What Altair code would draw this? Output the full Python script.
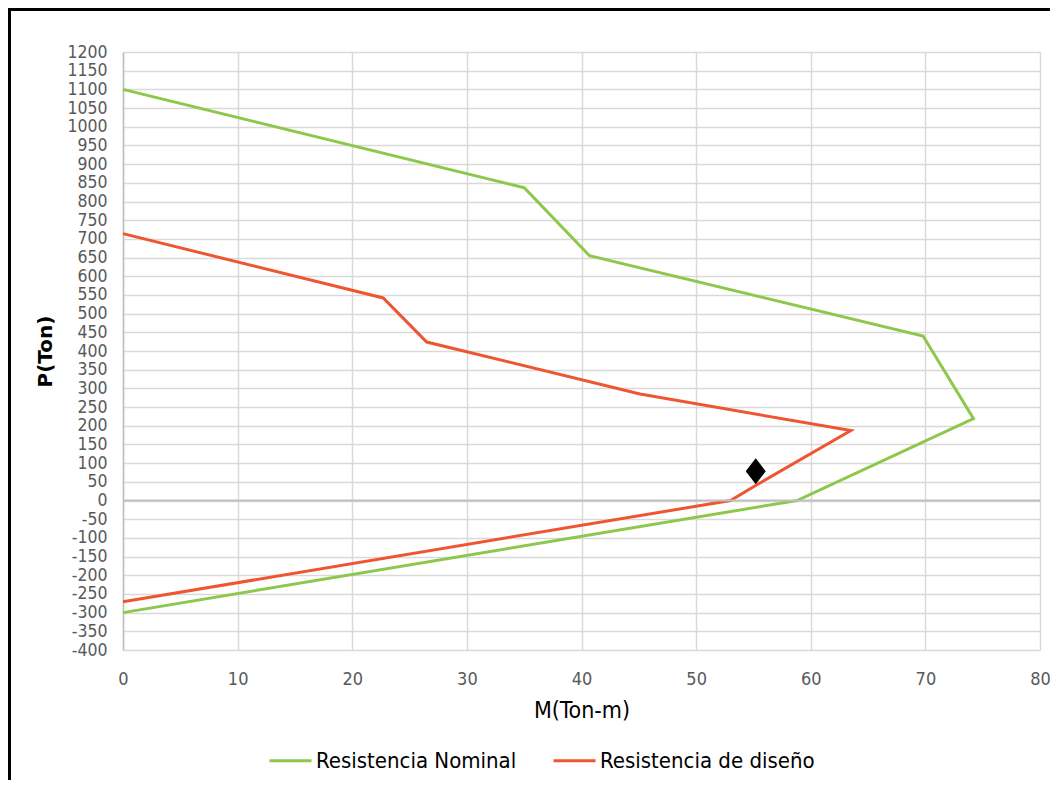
import altair as alt
import pandas as pd

# Interaction diagram data (M in Ton-m, P in Ton)
nominal_m = [0, 35.0, 40.7, 69.8, 74.2, 58.8, 0]
nominal_p = [1100, 837, 655, 440, 219, 0, -300]
design_m = [0, 22.7, 26.5, 45.1, 63.5, 55.3, 53.0, 0]
design_p = [714, 542, 424, 285, 187, 42, 0, -271]
demand_m = [55.2]
demand_p = [78]

x_ticks = list(range(0, 81, 10))
y_ticks = list(range(-400, 1201, 50))

series_names = ["Resistencia Nominal", "Resistencia de diseño"]
series_colors = ["#8DC84C", "#EE5530"]

rows = []
for i, (m, p) in enumerate(zip(nominal_m, nominal_p)):
    rows.append({"M": m, "P": p, "serie": series_names[0], "idx": i})
for i, (m, p) in enumerate(zip(design_m, design_p)):
    rows.append({"M": m, "P": p, "serie": series_names[1], "idx": i})
curves = pd.DataFrame(rows)
demand = pd.DataFrame({"M": demand_m, "P": demand_p})
zero = pd.DataFrame({"P": [0]})

NARROW = "DejaVu Sans Condensed"

x_scale = alt.Scale(domain=[0, 80], nice=False, zero=False)
y_scale = alt.Scale(domain=[-400, 1200], nice=False, zero=False)

x_axis = alt.Axis(
    values=x_ticks, title="M(Ton-m)", grid=True, gridColor="#D9D9D9",
    gridWidth=1.5, domain=False, ticks=False, labelPadding=20, labelFlush=False,
    labelExpr="'' + datum.value",
    labelFont=NARROW, labelFontSize=18, labelColor="#595959",
    titleFont=NARROW, titleFontSize=23, titleFontWeight="normal", titleColor="#000000",
    titlePadding=11,
)
y_axis = alt.Axis(
    values=y_ticks, title="P(Ton)", grid=True, gridColor="#D9D9D9",
    gridWidth=1.5, domain=True, domainColor="#BFBFBF", domainWidth=1.5, ticks=False,
    labelPadding=16, labelOverlap=False, labelFlush=False, labelExpr="'' + datum.value",
    labelFont=NARROW, labelFontSize=17.5,
    labelColor="#595959", titleFont="DejaVu Sans", titleFontSize=20, titleFontWeight="bold",
    titleColor="#000000", titleX=-78, titleY=299, titleAngle=-90, titleAlign="center",
    titleBaseline="middle",
)

lines = alt.Chart(curves).mark_line(strokeWidth=3, clip=False).encode(
    x=alt.X("M:Q", scale=x_scale, axis=x_axis),
    y=alt.Y("P:Q", scale=y_scale, axis=y_axis),
    color=alt.Color(
        "serie:N",
        scale=alt.Scale(domain=series_names, range=series_colors),
        sort=series_names,
        legend=alt.Legend(
            title=None, orient="none", direction="horizontal", legendX=145, legendY=686,
            symbolType="stroke", symbolStrokeWidth=3, symbolSize=1764, labelFont=NARROW,
            labelFontSize=22, labelColor="#000000", labelOffset=3, columnPadding=30,
            padding=0, labelLimit=400,
        ),
    ),
    order="idx:Q",
)

zero_line = alt.Chart(zero).mark_rule(color="#BFBFBF", strokeWidth=1.8).encode(
    y=alt.Y("P:Q", scale=y_scale, axis=y_axis)
)

diamond = alt.Chart(demand).mark_point(
    shape="M0,-1.3L1,0L0,1.3L-1,0Z", filled=True, color="#000000", opacity=1, size=400
).encode(x=alt.X("M:Q", scale=x_scale, axis=x_axis), y=alt.Y("P:Q", scale=y_scale, axis=y_axis))

frame_left = alt.Chart(zero).mark_rule(color="#000000", strokeWidth=3).encode(
    x=alt.value(-113.5), y=alt.value(-44), y2=alt.value(740)
)
frame_top = alt.Chart(zero).mark_rule(color="#000000", strokeWidth=3).encode(
    x=alt.value(-115), x2=alt.value(940), y=alt.value(-42.5)
)

chart = alt.layer(lines, zero_line, diamond, frame_left, frame_top).properties(
    width=917, height=598,
    autosize=alt.AutoSizeParams(type="none"),
    padding={"left": 115, "top": 44, "right": 10, "bottom": 130},
).configure_view(stroke=None)

chart.save("out.html", embed_options={"renderer": "svg", "actions": False})
